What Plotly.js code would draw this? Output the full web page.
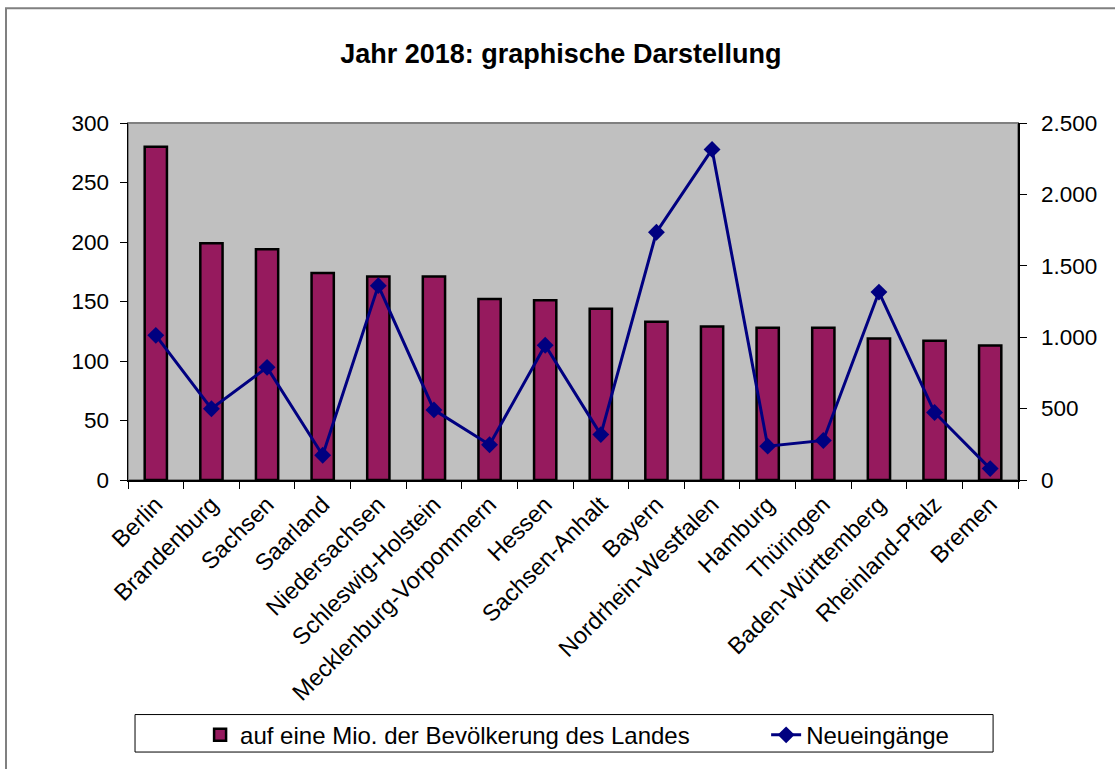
<!DOCTYPE html>
<html>
<head>
<meta charset="utf-8">
<script src="https://cdn.plot.ly/plotly-3.0.1.min.js"></script>
<style>html,body{margin:0;padding:0;background:#fff;}#chart{width:1115px;height:769px;}</style>
</head>
<body>
<div id="chart"></div>
<script>
const categories = ["Berlin","Brandenburg","Sachsen","Saarland","Niedersachsen","Schleswig-Holstein","Mecklenburg-Vorpommern","Hessen","Sachsen-Anhalt","Bayern","Nordrhein-Westfalen","Hamburg","Thüringen","Baden-Württemberg","Rheinland-Pfalz","Bremen"];
const perMillion = [280, 199, 194, 174, 171, 171, 152, 151, 144, 133, 129, 128, 128, 119, 117, 113];
const newCases = [1013, 499, 789, 173, 1361, 491, 247, 944, 318, 1735, 2315, 237, 277, 1316, 473, 80];
const barName = "auf eine Mio. der Bevölkerung des Landes";
const lineName = "Neueingänge";
const titleText = "Jahr 2018: graphische Darstellung";

const FONT = "Liberation Sans, Arial, sans-serif";

const traces = [
  {
    type: "bar", x: categories, y: perMillion, name: barName, yaxis: "y",
    marker: {color: "#961a5e", line: {color: "#000", width: 2.5}},
    width: 0.4, legend: "legend"
  },
  {
    type: "scatter", mode: "lines+markers", x: categories, y: newCases, name: lineName, yaxis: "y2",
    line: {color: "#000080", width: 3},
    marker: {symbol: "diamond", size: 13, color: "#000080"},
    legend: "legend2"
  }
];

const layout = {
  width: 1115, height: 769,
  margin: {l: 128, r: 97, t: 123, b: 285},
  paper_bgcolor: "#fff", plot_bgcolor: "#c0c0c0",
  font: {family: FONT, size: 22, color: "#000"},
  separators: ",.",
  title: {text: "<b>" + titleText + "</b>", font: {family: FONT, size: 27, color: "#000"},
          xref: "container", x: 0.503, xanchor: "center", yref: "container", y: 0.93, yanchor: "middle"},
  showlegend: true,
  xaxis: {
    type: "category", showgrid: false, zeroline: false, showline: true, linecolor: "#000", linewidth: 1.5,
    ticks: "outside", ticklen: 7, tickcolor: "#000", tickson: "boundaries", tickangle: -45,
    tickfont: {family: FONT, size: 23.5}, range: [-0.5, 15.5]
  },
  yaxis: {
    range: [0, 300], dtick: 50, showgrid: false, zeroline: false, showline: true, linecolor: "#000", linewidth: 1.5,
    ticks: "outside", ticklen: 7, tickcolor: "#000", tickfont: {family: FONT, size: 22.5}, ticklabelstandoff: 6
  },
  yaxis2: {
    overlaying: "y", side: "right", range: [0, 2500], dtick: 500, tickformat: ",d",
    showgrid: false, zeroline: false, showline: true, linecolor: "#000", linewidth: 1.5,
    ticks: "outside", ticklen: 7, tickcolor: "#000", tickfont: {family: FONT, size: 22.5}, ticklabelstandoff: 10
  },
  legend: {orientation: "h", x: 0.081, xanchor: "left", y: -0.715, yanchor: "middle",
           bgcolor: "rgba(0,0,0,0)", borderwidth: 0, font: {family: FONT, size: 24}},
  legend2: {orientation: "h", x: 0.717, xanchor: "left", y: -0.715, yanchor: "middle",
           bgcolor: "rgba(0,0,0,0)", borderwidth: 0, font: {family: FONT, size: 24}},
  shapes: [
    {type: "rect", xref: "paper", yref: "paper", x0: 0, x1: 1, y0: 0, y1: 1,
     line: {color: "#808080", width: 2}, layer: "below"},
    {type: "rect", xref: "paper", yref: "paper", x0: 0.0079, x1: 0.972, y0: -0.762, y1: -0.657,
     line: {color: "#000", width: 1}, fillcolor: "rgba(0,0,0,0)"},
    {type: "rect", xref: "paper", yref: "paper", x0: (6-128)/890, x1: (1125-128)/890, y0: (484-780)/361, y1: (484-7)/361,
     line: {color: "#808080", width: 2}, fillcolor: "rgba(0,0,0,0)"}
  ]
};

Plotly.newPlot("chart", traces, layout, {displayModeBar: false, staticPlot: true});
</script>
</body>
</html>
